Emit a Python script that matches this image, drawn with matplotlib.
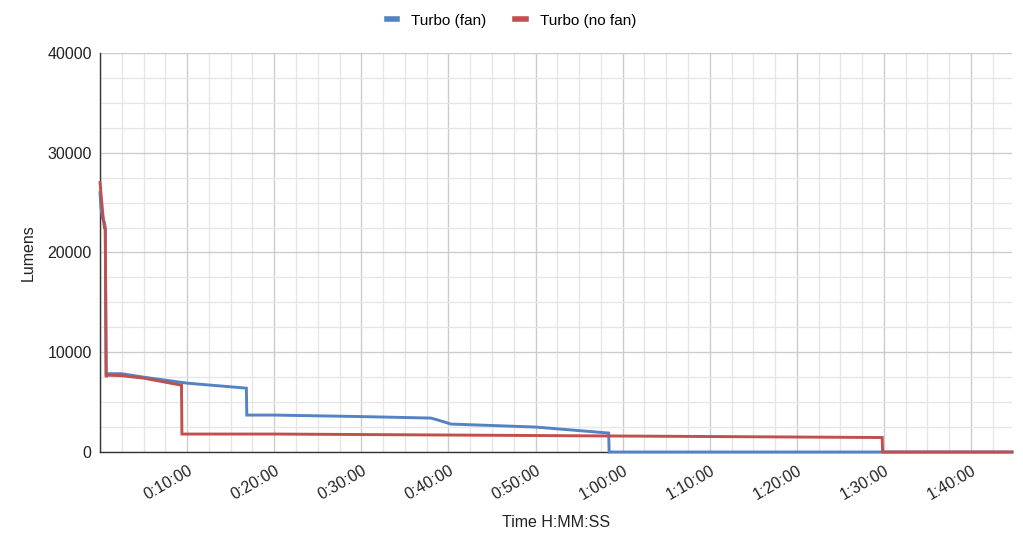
import matplotlib
matplotlib.use('Agg')
import matplotlib.pyplot as plt
from matplotlib.ticker import MultipleLocator, FuncFormatter

plt.rcParams['font.family'] = ['Liberation Sans', 'DejaVu Sans']

# time in minutes, output in lumens
fan_t = [0, 0.1, 0.3, 0.5, 0.6, 0.7, 1.0, 2.5, 5, 10, 16.8, 16.85, 20, 30, 38.0, 39.0, 40.3, 50, 58.4, 58.45, 104.7]
fan_lm = [26000, 24500, 23400, 23000, 22500, 7800, 7850, 7850, 7500, 6900, 6400, 3700, 3700, 3550, 3400, 3150, 2800, 2500, 1900, 0, 0]

nofan_t = [0, 0.3, 0.5, 0.6, 0.7, 0.8, 2.5, 5, 9.35, 9.4, 20, 30, 50, 60, 80, 89.8, 89.85, 104.7]
nofan_lm = [27000, 24000, 22500, 22300, 7500, 7700, 7650, 7400, 6700, 1800, 1800, 1750, 1650, 1600, 1500, 1450, 0, 0]

blue = '#5383c3'
red = '#c0504d'


def fmt_time(v, pos):
    m = int(round(v))
    if m == 0:
        return ''
    return '%d:%02d:00' % (m // 60, m % 60)


fig = plt.figure(figsize=(10.23, 5.49), dpi=100)
ax = fig.add_axes([0.0978, 0.1767, 0.8914, 0.7268])

ax.plot(fan_t, fan_lm, color=blue, linewidth=2.1, label='Turbo (fan)', solid_joinstyle='miter',
        zorder=3, clip_on=False)
ax.plot(nofan_t, nofan_lm, color=red, linewidth=2.1, label='Turbo (no fan)', solid_joinstyle='miter',
        zorder=4, clip_on=False)

ax.set_xlim(0, 104.7)
ax.set_ylim(0, 40000)
ax.xaxis.set_major_locator(MultipleLocator(10))
ax.xaxis.set_minor_locator(MultipleLocator(2.5))
ax.yaxis.set_major_locator(MultipleLocator(10000))
ax.yaxis.set_minor_locator(MultipleLocator(2500))
ax.xaxis.set_major_formatter(FuncFormatter(fmt_time))

ax.grid(which='major', color='#cccccc', linewidth=1.0)
ax.grid(which='minor', color='#e6e6e6', linewidth=1.0)
ax.set_axisbelow(True)

for s in ['top', 'right']:
    ax.spines[s].set_visible(False)
for s in ['left', 'bottom']:
    ax.spines[s].set_color('#333333')
    ax.spines[s].set_linewidth(1.0)

ax.tick_params(which='both', length=0)
ax.tick_params(axis='y', labelsize=11.5, colors='#222222', pad=6)
ax.tick_params(axis='x', labelsize=11.5, colors='#222222', pad=8)
for lbl in ax.get_xticklabels():
    lbl.set_rotation(30)
    lbl.set_ha('right')
    lbl.set_rotation_mode('anchor')

ax.set_ylabel('Lumens', fontsize=11.5, color='#222222', labelpad=8)
ax.set_xlabel('Time H:MM:SS', fontsize=11.5, color='#222222', labelpad=9)

leg = fig.legend(loc='upper center', bbox_to_anchor=(0.5, 1.0), ncol=2, frameon=False,
                 fontsize=11, handlelength=0.7, columnspacing=1.9, handletextpad=0.9)
for h in leg.get_lines():
    h.set_linewidth(4)

fig.savefig('out.png', dpi=100)
